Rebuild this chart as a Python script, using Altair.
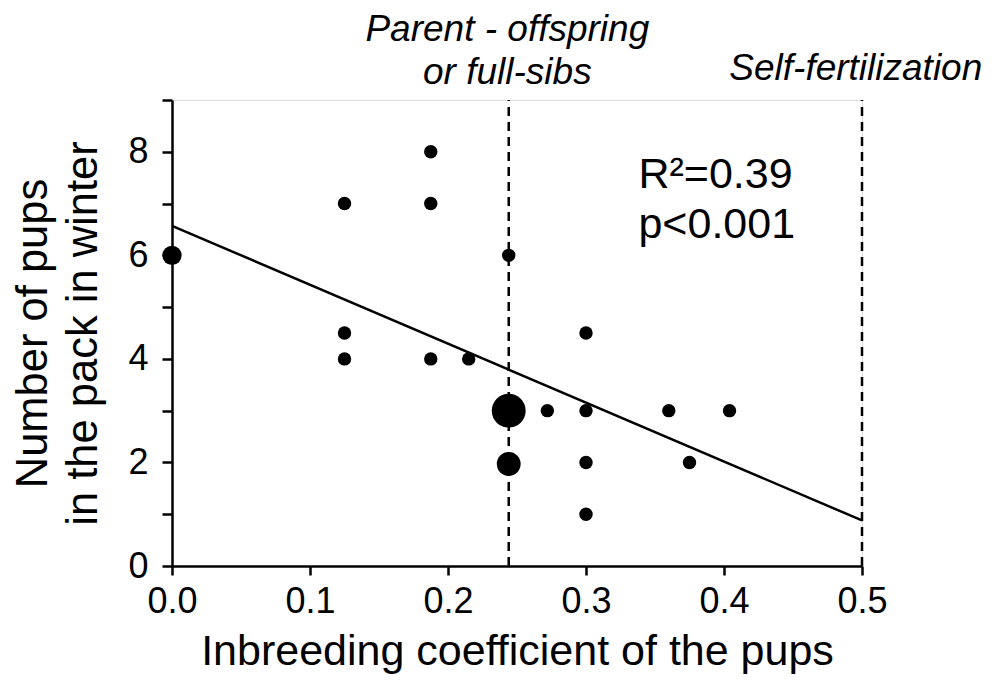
import altair as alt
import pandas as pd

# --- data ---
pt_x = [0.0, 0.125, 0.125, 0.125, 0.1875, 0.1875, 0.1875, 0.215, 0.244, 0.244, 0.244,
        0.272, 0.3, 0.3, 0.3, 0.3, 0.36, 0.375, 0.404]
pt_y = [6, 7, 4.5, 4, 8, 7, 4, 4, 6, 3, 1.97, 3, 4.5, 3, 2, 1, 3, 2, 3]
pt_n = [2, 1, 1, 1, 1, 1, 1, 1, 1, 6, 3, 1, 1, 1, 1, 1, 1, 1, 1]  # relative size class

fit_x = [0.0, 0.5]
fit_y = [6.57, 0.88]

vline_x = [0.244, 0.5]
vline_y0 = [0, 0]
vline_y1 = [9, 9]

ann_text = ["Parent - offspring", "or full-sibs", "Self-fertilization"]
ann_x = [0.243, 0.243, 0.4955]
ann_y = [10.14, 9.31, 9.39]

stat_text = ["R²=0.39", "p<0.001"]
stat_x = [0.338, 0.338]
stat_y = [7.31, 6.34]

x_ticks = [0, 0.1, 0.2, 0.3, 0.4, 0.5]
y_ticks = [0, 1, 2, 3, 4, 5, 6, 7, 8, 9]

FONT = "Liberation Sans"

points = pd.DataFrame({"x": pt_x, "y": pt_y, "n": pt_n})
fit = pd.DataFrame({"x": fit_x, "y": fit_y})
vlines = pd.DataFrame({"x": vline_x, "y0": vline_y0, "y1": vline_y1})
ann = pd.DataFrame({"t": ann_text, "x": ann_x, "y": ann_y})
stats = pd.DataFrame({"t": stat_text, "x": stat_x, "y": stat_y})

xs = alt.Scale(domain=[0, 0.5], nice=False, zero=False)
ys = alt.Scale(domain=[0, 9], nice=False, zero=False)

xaxis = alt.Axis(values=x_ticks, format=".1f", title="Inbreeding coefficient of the pups",
                 grid=False, domainColor="black", domainWidth=2.5, tickColor="black",
                 tickWidth=2.5, tickSize=9, labelFont=FONT, labelFontSize=36,
                 labelColor="black", labelPadding=9, titleFont=FONT, titleFontSize=43,
                 titleFontWeight="normal", titleColor="black", titlePadding=11,
                 labelFlush=False)
yaxis = alt.Axis(values=y_ticks, title=["Number of pups", "in the pack in winter"],
                 labelExpr="datum.value % 2 == 0 ? datum.value : ''",
                 grid=False, domainColor="black", domainWidth=2.5, tickColor="black",
                 tickWidth=2.5, tickSize=10, labelFont=FONT, labelFontSize=36,
                 labelColor="black", labelPadding=14, titleFont=FONT, titleFontSize=43.5,
                 titleFontWeight="normal", titleColor="black", titlePadding=22,
                 titleLineHeight=50, labelFlush=False)

base_pts = alt.Chart(points).mark_circle(color="black", opacity=1).encode(
    x=alt.X("x:Q", scale=xs, axis=xaxis),
    y=alt.Y("y:Q", scale=ys, axis=yaxis),
    size=alt.Size("n:Q", scale=alt.Scale(domain=[1, 6], range=[180, 1150]), legend=None),
)

fit_line = alt.Chart(fit).mark_line(color="black", strokeWidth=2.5).encode(
    x=alt.X("x:Q", scale=xs), y=alt.Y("y:Q", scale=ys))

dash = alt.Chart(vlines).mark_rule(color="black", strokeWidth=2.5, strokeDash=[9, 6]).encode(
    x=alt.X("x:Q", scale=xs), y=alt.Y("y0:Q", scale=ys), y2="y1:Q")

ann_mark = alt.Chart(ann).mark_text(font=FONT, fontSize=37, fontStyle="italic",
                                    align="center", baseline="alphabetic", color="black").encode(
    x=alt.X("x:Q", scale=xs), y=alt.Y("y:Q", scale=ys), text="t:N")

stat_mark = alt.Chart(stats).mark_text(font=FONT, fontSize=43, align="left",
                                       baseline="alphabetic", color="black").encode(
    x=alt.X("x:Q", scale=xs), y=alt.Y("y:Q", scale=ys), text="t:N")

chart = alt.layer(dash, fit_line, base_pts, ann_mark, stat_mark).properties(
    width=690, height=466,
    padding={"left": 164, "top": 92, "right": 122, "bottom": 109},
    autosize=alt.AutoSizeParams(type="none"),
).configure_view(stroke=None).configure(background="white")

chart.save("out.html", embed_options={"renderer": "svg", "actions": False})
